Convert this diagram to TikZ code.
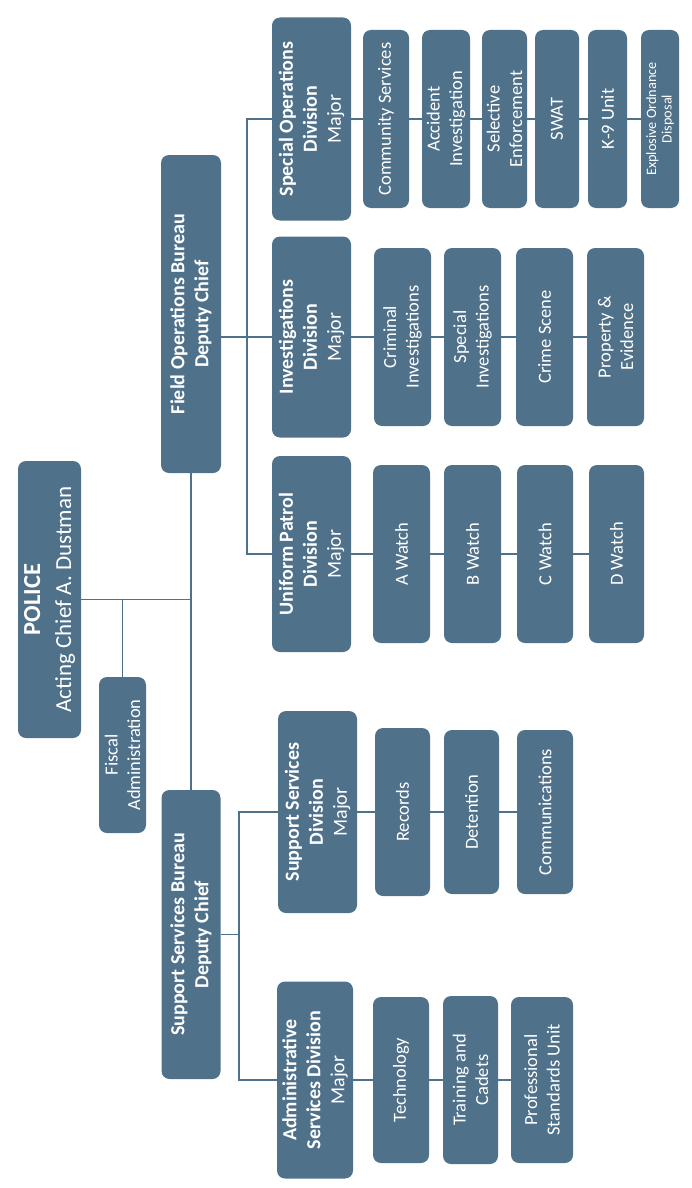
\documentclass[tikz,border=0pt]{standalone}
\usepackage{fontspec}
\setmainfont{Carlito}
\definecolor{chartblue}{RGB}{79,113,138}
\begin{document}
\begin{tikzpicture}[x=1pt,y=-1pt,
    unit/.style={fill=chartblue,text=white,rounded corners=8pt,rotate=90,
      align=center,inner sep=0pt,font=\fontsize{18.5}{22.5}\selectfont},
    division/.style={unit,font=\fontsize{20}{24}\selectfont},
    link/.style={draw=chartblue,line width=1.6pt}]
  \useasboundingbox (0,0) rectangle (692,1188);
  \node[unit,minimum width=277pt,minimum height=63pt,
    font=\fontsize{23}{31}\selectfont] (police) at (49.5,599.5)
    {{\fontsize{24.5}{31}\selectfont\bfseries POLICE}\\Acting Chief A. Dustman};
  \node[unit,minimum width=156pt,minimum height=47pt] (fiscal) at (122.5,755)
    {Fiscal\\Administration};
  \node[division,minimum width=318pt,minimum height=60pt] (fob) at (191,314)
    {\textbf{Field Operations Bureau}\\\textbf{Deputy Chief}};
  \node[division,minimum width=289pt,minimum height=59pt] (ssb) at (191,934.5)
    {\textbf{Support Services Bureau}\\\textbf{Deputy Chief}};
  \node[division,minimum width=203pt,minimum height=79pt] (sod) at (311.5,119)
    {\textbf{Special Operations}\\\textbf{Division}\\Major};
  \node[division,minimum width=201pt,minimum height=79pt] (invd) at (311.5,337)
    {\textbf{Investigations}\\\textbf{Division}\\Major};
  \node[division,minimum width=196pt,minimum height=79pt] (upd) at (311.5,554)
    {\textbf{Uniform Patrol}\\\textbf{Division}\\Major};
  \node[division,minimum width=202pt,minimum height=79pt] (ssd) at (317.5,812)
    {\textbf{Support Services}\\\textbf{Division}\\Major};
  \node[division,minimum width=197pt,minimum height=76pt] (asd) at (315,1080)
    {\textbf{Administrative}\\\textbf{Services Division}\\Major};
  \node[unit,minimum width=178pt,minimum height=46pt] (comsvc) at (386,119)
    {Community Services};
  \node[unit,minimum width=178pt,minimum height=48pt] (accinv) at (446,119)
    {Accident\\Investigation};
  \node[unit,minimum width=178pt,minimum height=45pt] (selenf) at (504.5,119)
    {Selective\\Enforcement};
  \node[unit,minimum width=178pt,minimum height=44pt] (swat) at (557,119)
    {SWAT};
  \node[unit,minimum width=178pt,minimum height=39pt] (kunit) at (607.5,119)
    {K-9 Unit};
  \node[unit,minimum width=178pt,minimum height=38pt,
    font=\fontsize{14.3}{15.5}\selectfont] (eod) at (660,119)
    {Explosive Ordnance\\Disposal};
  \node[unit,minimum width=178pt,minimum height=57pt] (crimi) at (402.5,337)
    {Criminal\\Investigations};
  \node[unit,minimum width=178pt,minimum height=57pt] (specinv) at (472.5,337)
    {Special\\Investigations};
  \node[unit,minimum width=178pt,minimum height=57pt] (crimesc) at (544.5,337)
    {Crime Scene};
  \node[unit,minimum width=178pt,minimum height=57pt] (propev) at (615.5,337)
    {Property \&\\Evidence};
  \node[unit,minimum width=178pt,minimum height=57pt] (awatch) at (401.5,554)
    {A Watch};
  \node[unit,minimum width=178pt,minimum height=57pt] (bwatch) at (472.5,554)
    {B Watch};
  \node[unit,minimum width=178pt,minimum height=56pt] (cwatch) at (545,554)
    {C Watch};
  \node[unit,minimum width=178pt,minimum height=55pt] (dwatch) at (616.5,554)
    {D Watch};
  \node[unit,minimum width=168pt,minimum height=55pt] (records) at (402.5,812)
    {Records};
  \node[unit,minimum width=164pt,minimum height=55pt] (detent) at (471.5,812)
    {Detention};
  \node[unit,minimum width=164pt,minimum height=56pt] (comms) at (545,812)
    {Communications};
  \node[unit,minimum width=166pt,minimum height=56pt] (tech) at (401,1080)
    {Technology};
  \node[unit,minimum width=168pt,minimum height=55pt] (training) at (470.5,1080)
    {Training and\\Cadets};
  \node[unit,minimum width=166pt,minimum height=62pt] (profstd) at (542,1080)
    {Professional\\Standards Unit};
  \coordinate (fbus) at (247,337);
  \coordinate (sbus) at (239,934.5);
  \draw[link] (police.south) -- (police.south -| fob);
  \draw[link] (fiscal.east) -- (fiscal.east |- police);
  \draw[link] (fob.west) -- (ssb.east);
  \draw[link] (fob.south |- fbus) -- (invd.north);
  \draw[link] (sod.north) -| (fbus) |- (upd.north);
  \draw[link] (ssb.south) -- (sbus);
  \draw[link] (ssd.north) -| (sbus) |- (asd.north);
  \foreach \a/\b in {sod/comsvc,comsvc/accinv,accinv/selenf,selenf/swat,
      swat/kunit,kunit/eod,invd/crimi,crimi/specinv,specinv/crimesc,
      crimesc/propev,upd/awatch,awatch/bwatch,bwatch/cwatch,cwatch/dwatch,
      ssd/records,records/detent,detent/comms,asd/tech,tech/training,
      training/profstd}
    \draw[link] (\a.south) -- (\b.north);
\end{tikzpicture}
\end{document}
